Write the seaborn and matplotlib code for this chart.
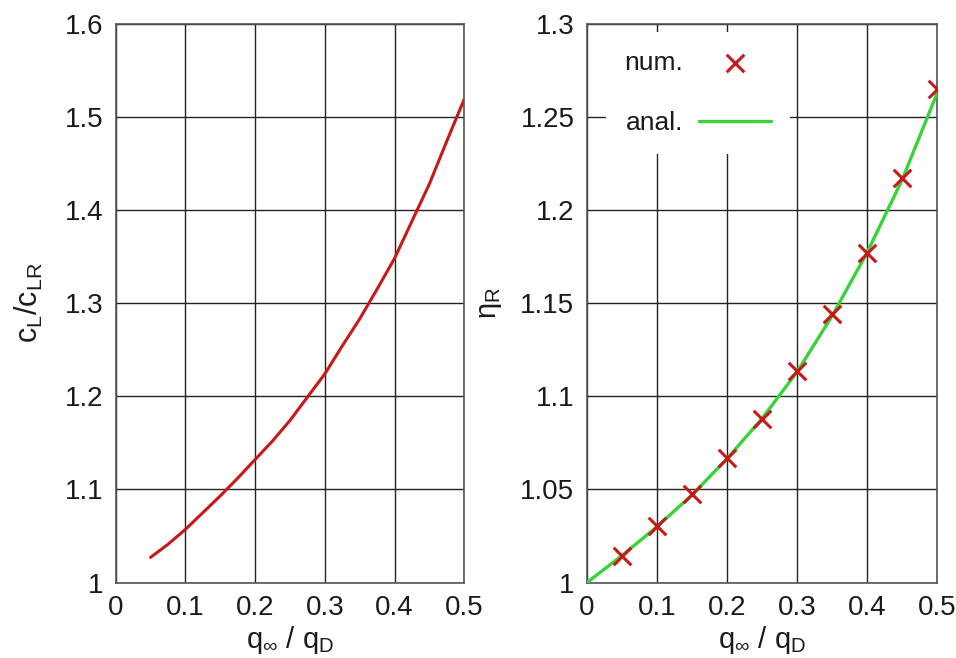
import matplotlib
matplotlib.use("Agg")
import matplotlib.pyplot as plt
import seaborn as sns
import pandas as pd
from matplotlib.ticker import FuncFormatter

# Lift coefficient ratio vs dynamic pressure ratio
q_cl = [0.05, 0.075, 0.10, 0.125, 0.15, 0.175, 0.20, 0.225, 0.25, 0.275,
        0.30, 0.325, 0.35, 0.375, 0.40, 0.425, 0.45, 0.475, 0.50]
cl_ratio = [1.027, 1.041, 1.057, 1.075, 1.093, 1.112, 1.132, 1.152, 1.174, 1.199,
            1.224, 1.254, 1.283, 1.315, 1.348, 1.388, 1.428, 1.474, 1.519]

# Efficiency ratio: numerical points and analytical curve
q_num = [0.05, 0.10, 0.15, 0.20, 0.25, 0.30, 0.35, 0.40, 0.45, 0.50]
eta_num = [1.0144, 1.0301, 1.0475, 1.0669, 1.0878, 1.1134, 1.1439, 1.1771, 1.2174, 1.2649]
q_anal = [0.0, 0.05, 0.10, 0.15, 0.20, 0.25, 0.30, 0.35, 0.40, 0.45, 0.50]
eta_anal = [1.0, 1.0145, 1.0300, 1.0470, 1.0665, 1.0880, 1.1130, 1.1430, 1.1770, 1.2160, 1.2625]

x_ticks = [0, 0.1, 0.2, 0.3, 0.4, 0.5]
cl_ticks = [1.0, 1.1, 1.2, 1.3, 1.4, 1.5, 1.6]
eta_ticks = [1.0, 1.05, 1.1, 1.15, 1.2, 1.25, 1.3]

sns.set_style("white")
plt.rcParams["font.family"] = ["Liberation Sans", "DejaVu Sans"]
plt.rcParams["mathtext.fontset"] = "custom"
plt.rcParams["mathtext.rm"] = "Liberation Sans"
plt.rcParams["mathtext.it"] = "Liberation Sans"
plt.rcParams["mathtext.sf"] = "Liberation Sans"
plt.rcParams["font.size"] = 20

fig = plt.figure(figsize=(9.56, 6.58), dpi=100)
ax1 = fig.add_axes([0.121, 0.1147, 0.3646, 0.8493])
ax2 = fig.add_axes([0.614, 0.1147, 0.3661, 0.8493])

RED = "#c81818"
GREEN = "#3ad23a"
TEXT = "#1a1a1a"

df_cl = pd.DataFrame({"q": q_cl, "cl": cl_ratio})
sns.lineplot(data=df_cl, x="q", y="cl", ax=ax1, color=RED, linewidth=2.2)

df_anal = pd.DataFrame({"q": q_anal, "eta": eta_anal})
df_num = pd.DataFrame({"q": q_num, "eta": eta_num})
sns.lineplot(data=df_anal, x="q", y="eta", ax=ax2, color=GREEN, linewidth=2.4,
             label="anal.", zorder=3)
sns.scatterplot(data=df_num, x="q", y="eta", ax=ax2, marker="x", color=RED,
                s=160, linewidth=2.2, label="num.", zorder=4)

fmt = FuncFormatter(lambda v, p: ("%g" % round(v, 3)))
for ax, yt in ((ax1, cl_ticks), (ax2, eta_ticks)):
    ax.set_xlim(0, 0.5)
    ax.set_ylim(yt[0], yt[-1])
    ax.set_xticks(x_ticks)
    ax.set_yticks(yt)
    ax.xaxis.set_major_formatter(fmt)
    ax.yaxis.set_major_formatter(fmt)
    ax.grid(True, color="#222222", linewidth=1.0)
    ax.set_axisbelow(True)
    ax.tick_params(axis="y", length=0, pad=9, labelsize=20, colors=TEXT)
    ax.tick_params(axis="x", length=0, pad=9, labelsize=20, colors=TEXT)
    for s in ax.spines.values():
        s.set_color("#555555")
        s.set_linewidth(1.2)
    ax.set_xlabel(r"$\mathregular{q_\infty\ /\ q_D}$", fontsize=21, labelpad=2,
                  color=TEXT)

ax1.set_ylabel(r"$\mathregular{c_L/c_{LR}}$", fontsize=22, labelpad=14, color=TEXT)
ax2.set_ylabel(r"$\eta_\mathregular{R}$", fontsize=21, labelpad=12, color=TEXT)

handles, labels = ax2.get_legend_handles_labels()
order = [labels.index("num."), labels.index("anal.")]
leg = ax2.legend([handles[i] for i in order], [labels[i] for i in order],
                 loc="upper left", bbox_to_anchor=(0.053, 0.985), borderaxespad=0,
                 markerfirst=False, frameon=True, framealpha=1.0,
                 facecolor="white", edgecolor="none", fancybox=False,
                 fontsize=19, handlelength=2.75, labelspacing=1.4,
                 borderpad=0.7, handletextpad=0.6)
for t in leg.get_texts():
    t.set_color(TEXT)

fig.savefig("out.png", dpi=100)
